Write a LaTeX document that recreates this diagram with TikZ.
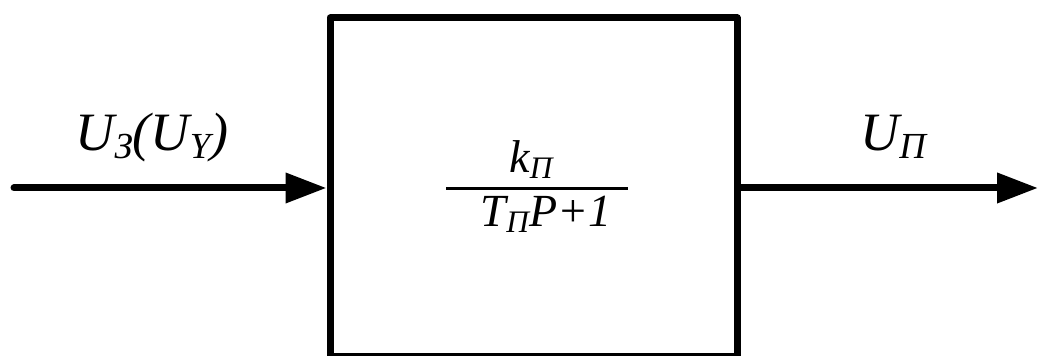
\documentclass[tikz,border=0pt]{standalone}
\usepackage{fontspec}
\setmainfont{Liberation Serif}
\usepackage{graphicx}
\usetikzlibrary{arrows.meta,positioning}
\newcommand{\sbs}[1]{\raisebox{-0.13em}{\scalebox{0.68}{#1}}}

\begin{document}
\begin{tikzpicture}[x=0.5pt,y=0.5pt,
  box/.style={draw,line width=3.5pt,line join=round,minimum width=203.5pt,minimum height=169.5pt,inner sep=0pt},
  sig/.style={line width=3.5pt,line cap=round,-{Triangle[length=20.5pt,width=14.5pt]}},
  lbl/.style={font=\fontsize{27}{32}\selectfont\itshape,anchor=base,inner sep=0pt},
  frac/.style={font=\fontsize{23}{28}\selectfont\itshape,anchor=base,inner sep=0pt},
]
  \useasboundingbox (0,0) rectangle (1038,356);
  \node[box] (blk) at (533.5,168.5) {};
  \node[frac] (num) at (531,183) {k\sbs{П}};
  \node[fill,minimum width=91pt,minimum height=1.5pt,inner sep=0pt] (bar) at (537,167) {};
  \node[frac] (den) at (546,129) {T\sbs{П}P+1};

  \coordinate (in) at (14,168);
  \coordinate (out) at (1038,168);
  \draw[sig] (in) -- (blk.west |- in);
  \draw[sig] (blk.east |- out) -- (out);

  \node[lbl] (uin) at (152,205) {U\sbs{З}(U\sbs{Y})};
  \node[lbl] (uout) at (893,205) {U\sbs{П}};
\end{tikzpicture}
\end{document}
